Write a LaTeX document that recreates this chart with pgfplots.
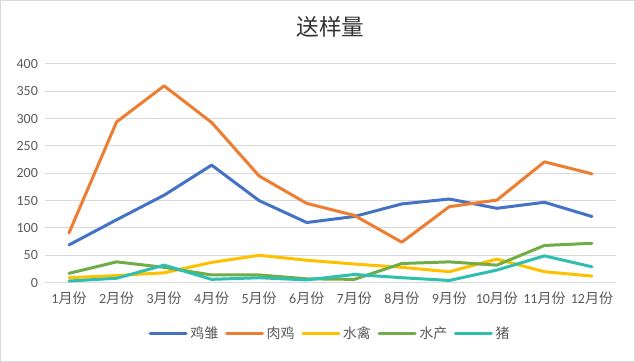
\documentclass[border=0pt]{standalone}
\usepackage{pgfplots}
\pgfplotsset{compat=1.18}
\usepackage{fontspec}
\setmainfont{Carlito}
\newfontfamily\cjk{Noto Sans CJK SC}
\definecolor{cA}{HTML}{4472C4}
\definecolor{cB}{HTML}{ED7D31}
\definecolor{cC}{HTML}{FFC000}
\definecolor{cD}{HTML}{70AD47}
\definecolor{cE}{HTML}{2FBFB0}
\definecolor{gridc}{HTML}{D9D9D9}
\definecolor{tc}{HTML}{595959}
\begin{document}
\begin{tikzpicture}
\begin{axis}[
  name=ax, scale only axis, width=427.9pt, height=164pt,
  xmin=0.5, xmax=12.5, ymin=0, ymax=400,
  ytick={0,50,...,400}, xtick={1,...,12},
  xticklabels={{1\cjk 月份},{2\cjk 月份},{3\cjk 月份},{4\cjk 月份},{5\cjk 月份},{6\cjk 月份},{7\cjk 月份},{8\cjk 月份},{9\cjk 月份},{10\cjk 月份},{11\cjk 月份},{12\cjk 月份}},
  axis line style={draw=none},
  ymajorgrids, grid style={draw=gridc, line width=0.75pt},
  major tick length=0pt, tick style={draw=none},
  /pgf/number format/assume math mode=true,
  ticklabel style={font=\fontsize{10.5}{12}\selectfont, text=tc},
  xticklabel style={yshift=-3pt},
  yticklabel style={xshift=-2pt},
  title={\cjk 送样量},
  title style={font=\fontsize{17}{20}\selectfont, text=black!80, at={(0.5,1)}, anchor=center, yshift=22pt},
  legend columns=-1,
  legend style={draw=none, fill=none, at={(0.5,0)}, anchor=center, yshift=-38.5pt,
    font=\fontsize{10.5}{12}\selectfont, text=tc,
    /tikz/every even column/.append style={column sep=3pt}},
  legend image code/.code={\draw[#1] (0pt,0pt) -- (27pt,0pt);},
  every axis plot/.append style={line width=2.25pt, line join=round, line cap=round, mark=none},
]
\addplot[cA] coordinates {(1,69)(2,115)(3,160)(4,215)(5,150)(6,110)(7,121)(8,144)(9,153)(10,136)(11,147)(12,121)};
\addplot[cB] coordinates {(1,91)(2,294)(3,360)(4,293)(5,195)(6,145)(7,123)(8,74)(9,139)(10,151)(11,221)(12,199)};
\addplot[cC] coordinates {(1,9)(2,13)(3,18)(4,37)(5,50)(6,41)(7,34)(8,28)(9,20)(10,43)(11,20)(12,12)};
\addplot[cD] coordinates {(1,17)(2,38)(3,28)(4,14)(5,14)(6,7)(7,6)(8,35)(9,38)(10,32)(11,68)(12,72)};
\addplot[cE] coordinates {(1,3)(2,8)(3,32)(4,6)(5,9)(6,5)(7,15)(8,9)(9,4)(10,23)(11,49)(12,29)};
\legend{{\cjk 鸡雏},{\cjk 肉鸡},{\cjk 水禽},{\cjk 水产},{\cjk 猪}}
\end{axis}
\draw[draw=gridc, line width=0.75pt] ([shift={(-33.565pt,-59.125pt)}]ax.south west) rectangle ([shift={(14.065pt,47.625pt)}]ax.north east);
\end{tikzpicture}
\end{document}
